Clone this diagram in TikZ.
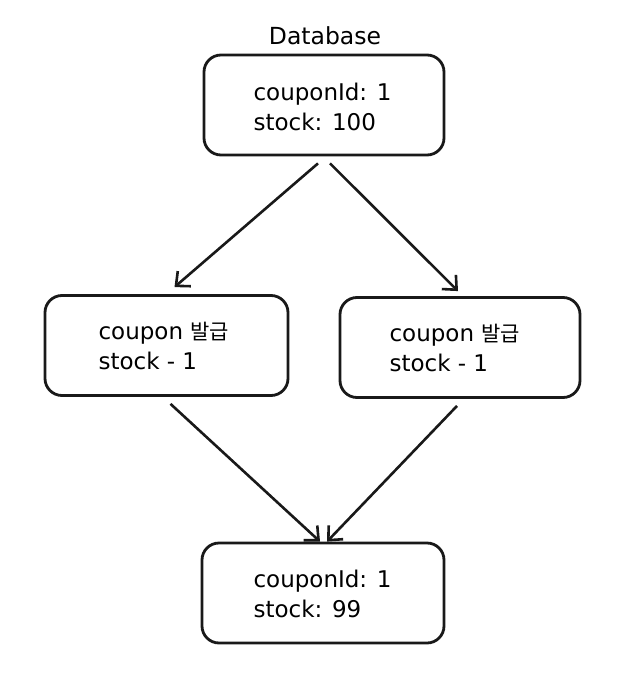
\documentclass[tikz,border=0pt]{standalone}
\usepackage{fontspec}
\setmainfont{DejaVu Sans}
\newfontfamily\krfont{Noto Sans CJK KR}
\usetikzlibrary{arrows.meta,calc}
\begin{document}
\begin{tikzpicture}[x=1pt,y=-1pt,
  box/.style={draw=black!90, line width=2.8pt, rounded corners=17pt, minimum width=#1, minimum height=100pt, inner sep=0pt},
  box/.default=240pt,
  txt/.style={align=left, font=\fontsize{23}{30}\selectfont, anchor=west},
  conn/.style={line width=2.6pt, draw=black!90, -{Straight Barb[length=11pt,width=20pt,line width=2.6pt]}}]
\useasboundingbox (0,0) rectangle (628,682);
\node[box=240pt] (top) at (324,105) {};
\node[txt] (toptxt) at (250,107) {couponId: 1\\stock: 100};
\node[font=\fontsize{23.5}{26}\selectfont] (db) at (325,36) {Database};
\node[box=243pt] (left) at (166.5,345.5) {};
\node[txt] (lefttxt) at (95,346) {coupon {\krfont\fontsize{21}{30}\selectfont 발급}\\stock - 1};
\node[box=240pt] (right) at (460,347.5) {};
\node[txt] (righttxt) at (386,348) {coupon {\krfont\fontsize{21}{30}\selectfont 발급}\\stock - 1};
\node[box=242pt] (bot) at (323,593) {};
\node[txt] (bottxt) at (250,594) {couponId: 1\\stock: 99};
\draw[conn] ($(top.south)+(-6,7)$) -- ($(left.north)+(8,-7)$);
\draw[conn] ($(top.south)+(6,7)$) -- ($(right.north)+(-2,-5)$);
\draw[conn] ($(left.south)+(4,7)$) -- ($(bot.north)+(-3,0)$);
\draw[conn] ($(right.south)+(-3,7)$) -- ($(bot.north)+(4,0)$);
\end{tikzpicture}
\end{document}
